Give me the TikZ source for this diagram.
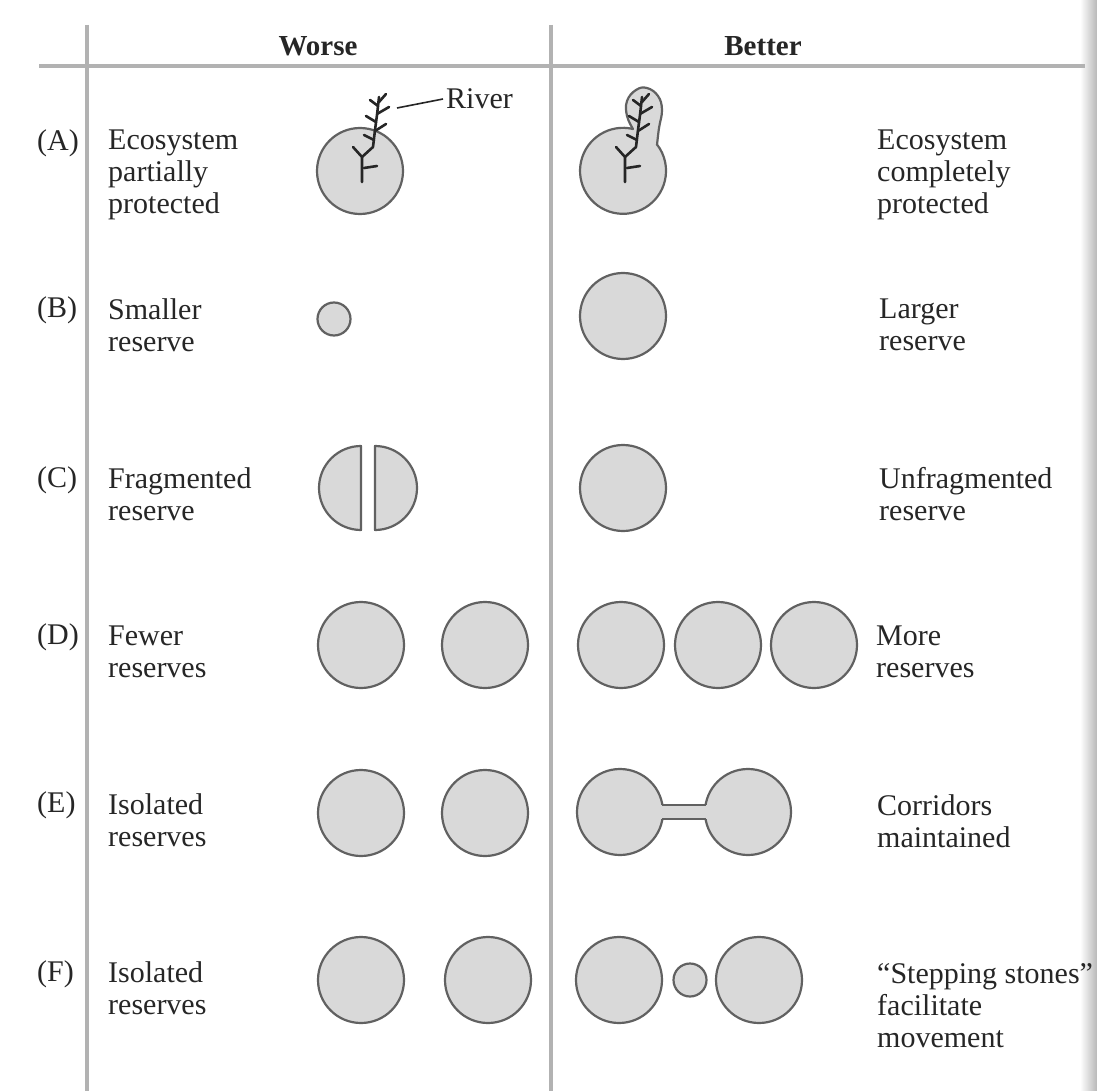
\documentclass[tikz,border=0pt]{standalone}
\usepackage{fontspec}
\setmainfont{Liberation Serif}
\definecolor{fillg}{gray}{0.85}
\definecolor{lineg}{gray}{0.38}
\definecolor{ruleg}{gray}{0.70}
\definecolor{inkc}{gray}{0.15}
\begin{document}
\begin{tikzpicture}[x=1pt,y=-1pt,
  lab/.style={font=\fontsize{30}{32}\selectfont, text=inkc, inner sep=0pt, align=left, anchor=west},
  tag/.style={font=\fontsize{30}{32}\selectfont, text=inkc, inner sep=0pt, anchor=west},
  hdr/.style={font=\bfseries\fontsize{29}{32}\selectfont, text=inkc, inner sep=0pt},
  rule/.style={draw=ruleg, line width=4.5pt},
  reserve/.style={circle, draw=lineg, fill=fillg, line width=2.2pt, inner sep=0pt, minimum size=86pt},
  smallres/.style={reserve, minimum size=33pt},
  shapeline/.style={draw=lineg, fill=fillg, line width=2.2pt, line join=round},
  riverline/.style={draw=inkc, line width=2.6pt, line cap=round, line join=round},
  river/.pic={
    \draw[riverline] (0,0) -- (0,-25) -- (-9,-35);
    \draw[riverline] (0,-25) -- (11,-35) -- (13,-52) -- (15,-67) -- (17,-85);
    \draw[riverline] (2,-14) -- (15,-16);
    \draw[riverline] (12,-42) -- (2,-47);
    \draw[riverline] (13,-51) -- (24,-58);
    \draw[riverline] (14,-60) -- (4,-66);
    \draw[riverline] (15,-68) -- (27,-75);
    \draw[riverline] (16,-76) -- (8,-82);
    \draw[riverline] (17,-80) -- (24,-88);
  }]
\useasboundingbox (0,0) rectangle (1097,1091);
\fill[white] (0,0) rectangle (1097,1091);
\shade[left color=white, right color=black!28] (1080,0) rectangle (1097,1091);

% table rules
\draw[rule] (39,66) -- (1085,66);
\draw[rule] (87,25) -- (87,1091);
\draw[rule] (551,25) -- (551,1091);

% headers
\node[hdr] (worse) at (318,46) {Worse};
\node[hdr] (better) at (763,46) {Better};

% row tags
\node[tag] (tA) at (37,143) {(A)};
\node[tag] (tB) at (37,310) {(B)};
\node[tag] (tC) at (37,480) {(C)};
\node[tag] (tD) at (37,637) {(D)};
\node[tag] (tE) at (37,805) {(E)};
\node[tag] (tF) at (37,974) {(F)};

% left labels
\node[lab] (lA) at (108,175) {Ecosystem\\partially\\protected};
\node[lab] (lB) at (108,325) {Smaller\\reserve};
\node[lab] (lC) at (108,494) {Fragmented\\reserve};
\node[lab] (lD) at (108,652) {Fewer\\reserves};
\node[lab] (lE) at (108,820) {Isolated\\reserves};
\node[lab] (lF) at (108,988) {Isolated\\reserves};

% right labels
\node[lab] (rA) at (877,175) {Ecosystem\\completely\\protected};
\node[lab] (rB) at (879,325) {Larger\\reserve};
\node[lab] (rC) at (879,494) {Unfragmented\\reserve};
\node[lab] (rD) at (876,652) {More\\reserves};
\node[lab] (rE) at (877,821) {Corridors\\maintained};
\node[lab] (rF) at (877,1006) {“Stepping stones”\\facilitate\\movement};

% (A) worse: ecosystem partially protected
\node[reserve] (wA) at (360,171) {};
\pic at (362,182) {river};
\coordinate (rivertip) at (397,108);
\node[tag] (riverlab) at (446,99) {River};
\draw[draw=inkc, line width=1.6pt] (rivertip) -- ([xshift=-3pt]riverlab.west);

% (A) better: ecosystem completely protected
\path[shapeline] (633,129) arc[start angle=-76.6, end angle=-397.4, radius=43]
  -- plot[smooth, tension=0.7] coordinates {(657,145) (659,128) (662,110) (658,96) (647,88) (636,90) (627,101) (627,116) (633,129)}
  -- cycle;
\pic at (625,182) {river};

% (B)
\node[smallres] (wB) at (334,319) {};
\node[reserve] (bB) at (623,316) {};

% (C)
\path[shapeline] (361,446) arc[start angle=-90, end angle=-270, radius=42] -- cycle;
\path[shapeline] (375,446) arc[start angle=-90, end angle=90, radius=42] -- cycle;
\node[reserve] (bC) at (623,488) {};

% (D)
\node[reserve] (wD1) at (361,645) {};
\node[reserve] (wD2) at (485,645) {};
\node[reserve] (bD1) at (621,645) {};
\node[reserve] (bD2) at (718,645) {};
\node[reserve] (bD3) at (814,645) {};

% (E)
\node[reserve] (wE1) at (361,813) {};
\node[reserve] (wE2) at (485,813) {};
\node[reserve] (bE1) at (620,812) {};
\node[reserve] (bE2) at (748,812) {};
\fill[fillg] (655,805.2) rectangle (713,818.8);
\draw[draw=lineg, line width=2.2pt] (662.4,805) -- (705.6,805);
\draw[draw=lineg, line width=2.2pt] (662.4,819) -- (705.6,819);

% (F)
\node[reserve] (wF1) at (361,980) {};
\node[reserve] (wF2) at (488,980) {};
\node[reserve] (bF1) at (619,980) {};
\node[smallres] (bF2) at (690,980) {};
\node[reserve] (bF3) at (759,980) {};
\end{tikzpicture}
\end{document}
